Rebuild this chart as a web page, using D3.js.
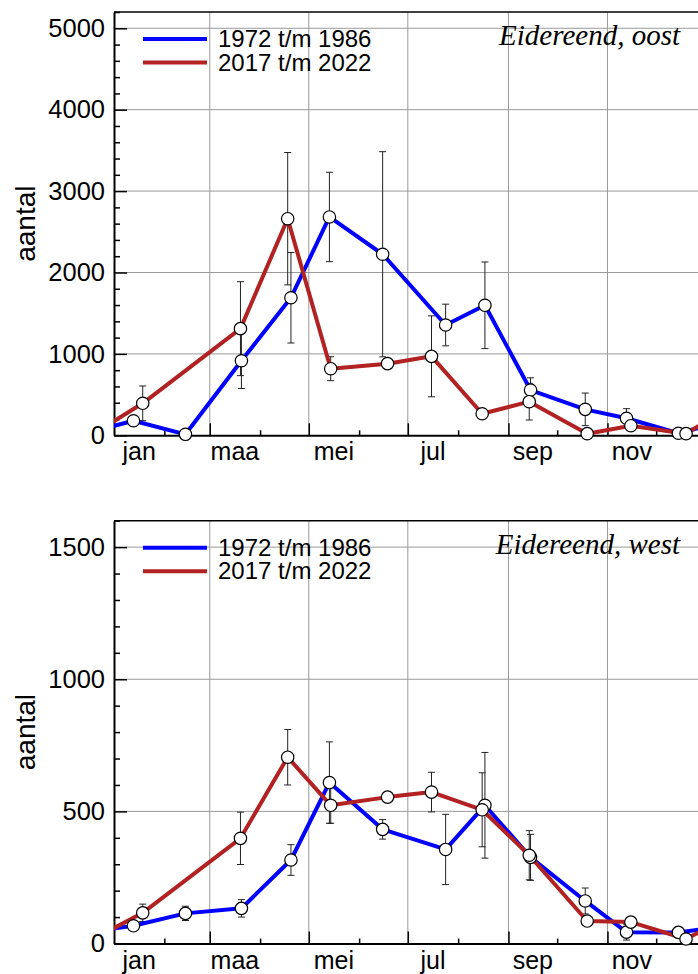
<!DOCTYPE html>
<html>
<head>
<meta charset="utf-8">
<script src="https://cdn.jsdelivr.net/npm/d3@7"></script>
<style>
  body { margin: 0; background: #fff; }
  text { font-family: "Liberation Sans", Arial, Helvetica, sans-serif; }
  text.title { font-family: "Liberation Serif", "Times New Roman", serif; font-style: italic; }
</style>
</head>
<body>
<div id="chart"></div>
<script>
const svgWidth = 698;
const svgHeight = 974;

// month starts (day of year) and the labels shown under the axis
const monthStart = [0, 31, 59, 90, 120, 151, 181, 212, 243, 273, 304, 334];
const monthNames = ["jan", "feb", "maa", "apr", "mei", "jun", "jul", "aug", "sep", "okt", "nov", "dec"];

// legend labels
const seriesNames = ["1972 t/m 1986", "2017 t/m 2022"];

// count dates (day of year) for each period
const dayOld = [12, 44, 78.5, 109, 132.7, 165.5, 204.3, 228.5, 256.6, 290.3, 315.7, 347.7];
const dayNew = [17.7, 77.9, 107, 133.5, 168.5, 195.6, 226.8, 255.8, 291.5, 318.4, 352.4];

// Eidereend, oost
const oostOld = [179, 12, 916, 1690, 2682, 2224, 1355, 1597, 556, 319, 209, 25];
const oostOldErr = [0, 0, 341, 556, 549, 1260, 256, 532, 150, 200, 118, 0];
const oostNew = [393, 1310, 2661, 818, 880, 970, 265, 413, 20, 118, 20];
const oostNewErr = [213, 577, 813, 147, 0, 497, 0, 225, 0, 0, 0];

// Eidereend, west
const westOld = [67, 114, 133, 316, 609, 432, 356, 523, 326, 161, 43, 42];
const westOldErr = [0, 27, 33, 58, 154, 37, 133, 200, 87, 49, 30, 0];
const westNew = [116, 398, 705, 523, 554, 573, 506, 334, 85, 81, 17];
const westNewErr = [33, 99, 105, 68, 0, 75, 140, 93, 0, 0, 0];

const colors = ["#0000ff", "#b22222"];

var svg = d3.select("#chart")
    .append("svg")
    .attr("width", svgWidth)
    .attr("height", svgHeight);

// shared x scale: day of year, the right edge falls outside the picture
var xScale = d3.scaleLinear()
    .domain([0, 365])
    .range([114, 706.5]);

function drawPanel(id, top, bottom, yMax, majorStep, minorStep, title, series) {
    var yScale = d3.scaleLinear()
        .domain([0, yMax])
        .range([bottom, top]);

    var g = svg.append("g");

    svg.append("clipPath")
        .attr("id", "clip-" + id)
        .append("rect")
        .attr("x", xScale(0))
        .attr("y", top)
        .attr("width", xScale(365) - xScale(0))
        .attr("height", bottom - top);

    var majorY = d3.range(0, yMax + 1, majorStep);
    var minorY = d3.range(0, yMax + 1, minorStep).filter(d => d % majorStep !== 0);

    // grid lines
    g.append("g")
        .selectAll("line")
        .data(majorY.filter(d => d > 0))
        .enter()
        .append("line")
        .attr("x1", xScale(0))
        .attr("x2", xScale(365))
        .attr("y1", d => yScale(d))
        .attr("y2", d => yScale(d))
        .attr("stroke", "#9a9a9a")
        .attr("stroke-width", 1);

    g.append("g")
        .selectAll("line")
        .data(monthStart.filter((d, i) => i % 2 === 0 && i > 0))
        .enter()
        .append("line")
        .attr("x1", d => xScale(d))
        .attr("x2", d => xScale(d))
        .attr("y1", top)
        .attr("y2", bottom)
        .attr("stroke", "#9a9a9a")
        .attr("stroke-width", 1);

    // top frame line
    g.append("line")
        .attr("x1", xScale(0))
        .attr("x2", xScale(365))
        .attr("y1", top)
        .attr("y2", top)
        .attr("stroke", "#000")
        .attr("stroke-width", 1.5);

    // y axis, ticks pointing inward
    var yAxis = g.append("g")
        .attr("transform", `translate(${xScale(0)}, 0)`)
        .call(d3.axisLeft(yScale).tickValues(majorY).tickSize(-13).tickSizeOuter(0)
            .tickPadding(9).tickFormat(d3.format("d")));
    yAxis.select(".domain").attr("stroke-width", 2);
    yAxis.selectAll(".tick line").attr("stroke-width", 1.5);
    yAxis.selectAll("text")
        .attr("font-size", 25.5)
        .attr("fill", "#000");

    g.append("g")
        .attr("transform", `translate(${xScale(0)}, 0)`)
        .call(d3.axisLeft(yScale).tickValues(minorY).tickSize(-6).tickFormat(""))
        .call(a => a.select(".domain").remove())
        .selectAll(".tick line").attr("stroke-width", 1.5);

    // x axis: major ticks on odd months, minor on even months
    var xAxis = g.append("g")
        .attr("transform", `translate(0, ${bottom})`)
        .call(d3.axisBottom(xScale).tickValues(monthStart.filter((d, i) => i % 2 === 0 && i > 0))
            .tickSize(-12).tickSizeOuter(0).tickFormat(""));
    xAxis.select(".domain").attr("stroke-width", 2);
    xAxis.selectAll(".tick line").attr("stroke-width", 1.5);

    g.append("g")
        .attr("transform", `translate(0, ${bottom})`)
        .call(d3.axisBottom(xScale).tickValues(monthStart.filter((d, i) => i % 2 === 1))
            .tickSize(-5).tickFormat(""))
        .call(a => a.select(".domain").remove())
        .selectAll(".tick line").attr("stroke-width", 1.5);

    // month labels centred on the middle of the month
    var labelDays = monthStart.map((d, i) => d + ((monthStart[i + 1] || 365) - d) / 2);
    g.append("g")
        .selectAll("text")
        .data(monthNames.map((m, i) => ({ name: m, day: labelDays[i] })).filter((d, i) => i % 2 === 0))
        .enter()
        .append("text")
        .attr("x", d => xScale(d.day))
        .attr("y", bottom + 25)
        .attr("text-anchor", "middle")
        .attr("font-size", 25)
        .text(d => d.name);

    // y label
    g.append("text")
        .attr("transform", `translate(35, ${(top + bottom) / 2}) rotate(-90)`)
        .attr("text-anchor", "middle")
        .attr("font-size", 28)
        .text("aantal");

    // title
    g.append("text")
        .attr("class", "title")
        .attr("x", 680)
        .attr("y", top + 33)
        .attr("text-anchor", "end")
        .attr("font-size", 29)
        .text(title);

    // legend
    var legend = g.append("g");
    seriesNames.forEach(function(name, i) {
        var ly = top + 27 + i * 23.5;
        legend.append("line")
            .attr("x1", 143)
            .attr("x2", 207)
            .attr("y1", ly)
            .attr("y2", ly)
            .attr("stroke", colors[i])
            .attr("stroke-width", 4);
        legend.append("text")
            .attr("x", 218)
            .attr("y", ly + 8)
            .attr("font-size", 24)
            .text(name);
    });

    var line = d3.line()
        .x(d => xScale(d.day))
        .y(d => yScale(d.value));

    var points = series.map(s => s.days.map((d, i) => ({ day: d, value: s.values[i], err: s.errs[i] })));

    // error bars
    var bars = g.append("g");
    points.forEach(function(pts) {
        var withErr = pts.filter(d => d.err > 0);
        bars.selectAll(null)
            .data(withErr)
            .enter()
            .append("line")
            .attr("x1", d => xScale(d.day))
            .attr("x2", d => xScale(d.day))
            .attr("y1", d => yScale(d.value - d.err))
            .attr("y2", d => yScale(d.value + d.err));
        [-1, 1].forEach(function(sgn) {
            bars.selectAll(null)
                .data(withErr)
                .enter()
                .append("line")
                .attr("x1", d => xScale(d.day) - 3.5)
                .attr("x2", d => xScale(d.day) + 3.5)
                .attr("y1", d => yScale(d.value + sgn * d.err))
                .attr("y2", d => yScale(d.value + sgn * d.err));
        });
    });
    bars.selectAll("line")
        .attr("stroke", "#222")
        .attr("stroke-width", 1);

    // lines, wrapped around the year end and clipped to the plot
    points.forEach(function(pts, i) {
        var first = pts[0];
        var last = pts[pts.length - 1];
        var wrapped = [{ day: last.day - 365, value: last.value }]
            .concat(pts)
            .concat([{ day: first.day + 365, value: first.value }]);
        g.append("path")
            .datum(wrapped)
            .attr("clip-path", `url(#clip-${id})`)
            .attr("fill", "none")
            .attr("stroke", colors[i])
            .attr("stroke-width", 4)
            .attr("stroke-linejoin", "round")
            .attr("d", line);
    });

    // markers
    points.forEach(function(pts) {
        g.append("g")
            .selectAll("circle")
            .data(pts)
            .enter()
            .append("circle")
            .attr("cx", d => xScale(d.day))
            .attr("cy", d => yScale(d.value))
            .attr("r", 6.2)
            .attr("fill", "#fff")
            .attr("stroke", "#000")
            .attr("stroke-width", 1.2);
    });
}

drawPanel("oost", 12, 435.3, 5200, 1000, 200, "Eidereend, oost", [
    { days: dayOld, values: oostOld, errs: oostOldErr },
    { days: dayNew, values: oostNew, errs: oostNewErr }
]);

drawPanel("west", 520.7, 943.5, 1600, 500, 100, "Eidereend, west", [
    { days: dayOld, values: westOld, errs: westOldErr },
    { days: dayNew, values: westNew, errs: westNewErr }
]);
</script>
</body>
</html>
